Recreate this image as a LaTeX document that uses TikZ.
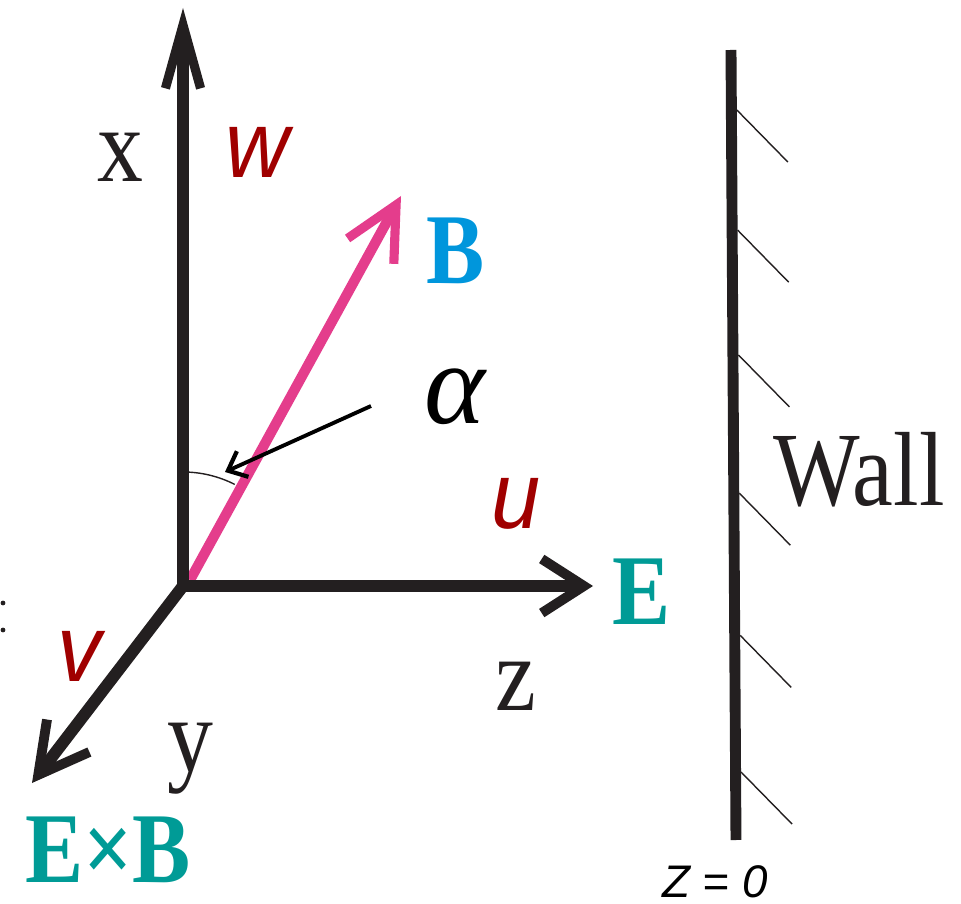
\documentclass[tikz,border=0pt]{standalone}
\usepackage{fontspec}
\setmainfont{Liberation Serif}[FakeStretch=0.87]
\newfontfamily\sanslbl{Liberation Sans}[FakeStretch=0.93]
\newfontfamily\sansplain{Liberation Sans}
\newfontfamily\greekserif{Liberation Serif}
\usetikzlibrary{arrows.meta,calc}
\definecolor{ink}{RGB}{35,31,32}
\definecolor{rose}{RGB}{228,61,140}
\definecolor{sky}{RGB}{0,150,220}
\definecolor{jade}{RGB}{0,155,150}
\definecolor{wine}{RGB}{160,0,0}
\tikzset{
  axis/.style={draw=ink,line width=3.4pt},
  field/.style={draw=rose,line width=2.9pt},
  wall/.style={draw=ink,line width=3.1pt},
  hatch/.style={draw=ink,line width=0.4pt},
  pointer/.style={draw=black,line width=1.1pt},
  angle mark/.style={draw=ink,line width=0.4pt},
  coord/.style={font=\fontsize{30}{34}\selectfont,text=ink,inner sep=0pt},
  comp/.style={font=\sanslbl\itshape\fontsize{27}{30}\selectfont,text=wine,inner sep=0pt},
  vec/.style={font=\bfseries\fontsize{28.5}{32}\selectfont,text=#1,inner sep=0pt},
  vec/.default=jade,
}
\begin{document}
\begin{tikzpicture}
  \useasboundingbox (0,0) rectangle (9.61,9.03);
  % axes and the field vector
  \coordinate (O) at (1.83,3.17);
  \coordinate (xtip) at (1.83,8.95);
  \coordinate (ztip) at (5.93,3.17);
  \coordinate (ytip) at (0.32,1.20);
  \coordinate (Bfoot) at (1.90,3.23);
  \coordinate (Btip) at (4.01,7.07);
  \draw[field,-{Straight Barb[length=15pt,width=15pt,line width=2.6pt]}] (Bfoot) -- (Btip);
  \draw[axis,-{Straight Barb[length=18pt,width=10pt,line width=2.6pt]}] (O) -- (xtip);
  \draw[axis,-{Straight Barb[length=12pt,width=15.4pt,line width=2.8pt]}] ([xshift=-1.7pt]O) -- (ztip);
  \draw[axis,-{Straight Barb[length=14pt,width=15.2pt,line width=2.8pt]}] (O) -- (ytip);
  \draw[angle mark] ($(O)+(90:1.14)$) arc[start angle=90,end angle=63,radius=1.14];
  \coordinate (apoint) at (3.71,4.97);
  \coordinate (ahead) at (2.25,4.31);
  \draw[pointer,-{Straight Barb[length=4.6pt,width=8pt,line width=1.2pt]}] (apoint) -- (ahead);
  % wall
  \coordinate (wt) at (7.31,8.53);
  \coordinate (wb) at (7.36,0.63);
  \draw[wall] (wt) -- (wb);
  \foreach \t in {0.076,0.228,0.386,0.561,0.741,0.914}
    \draw[hatch] ($(wt)!\t!(wb)+(0.055,0)$) -- ++(0.51,-0.52);
  % labels
  \node[coord] (xl) at (1.20,7.46) {x};
  \node[coord] (yl) at (1.90,1.44) {y};
  \node[coord] (zl) at (5.16,2.17) {z};
  \node[coord] (wall) at (8.59,4.33) {Wall};
  \node[comp] (wl) at (2.57,7.51) {w};
  \node[comp] (ul) at (5.16,3.99) {u};
  \node[comp] (vl) at (0.80,2.47) {v};
  \node[vec=sky] (Bl) at (4.56,6.52) {B};
  \node[vec] (El) at (6.42,3.11) {E};
  \node[vec] (EBl) at (1.08,0.53) {E×B};
  \node[font=\greekserif\itshape\fontsize{33}{36}\selectfont,text=black,inner sep=0pt] (al) at (4.55,5.06) {α};
  \node[font=\sansplain\itshape\fontsize{13}{15}\selectfont,text=black,inner sep=0pt] (z0) at (7.15,0.21) {Z = 0};
  \fill[ink] (0.03,3.00) circle (0.024) (0.03,2.73) circle (0.024);
\end{tikzpicture}
\end{document}
